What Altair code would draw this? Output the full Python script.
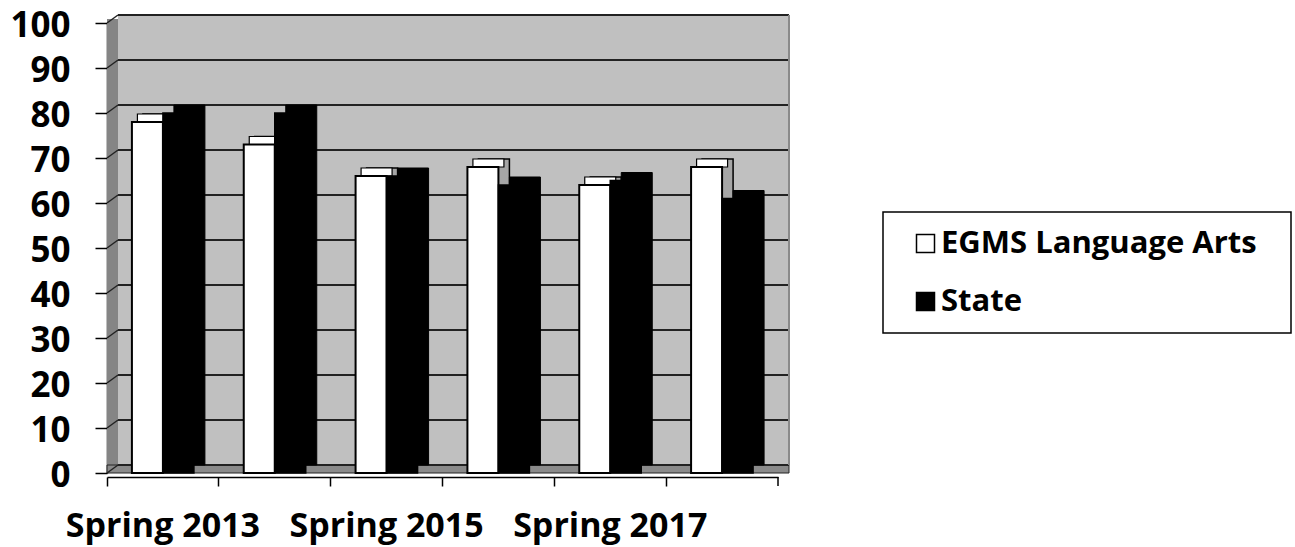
import altair as alt
import pandas as pd

# Test-year categories and the two score series (percent)
terms = ["Spring 2013", "Spring 2014", "Spring 2015", "Spring 2016", "Spring 2017", "Spring 2018"]
egms = [78, 73, 66, 68, 64, 68]
state = [80, 80, 66, 64, 65, 61]
series_names = ["EGMS Language Arts", "State"]
shown_labels = ["Spring 2013", "Spring 2015", "Spring 2017"]
y_ticks = list(range(0, 101, 10))

W, H = 671, 450          # front plot area
DX, DY = 11, -8          # depth of the 3-D box
BAR = 31                 # bar width
FONT = "Open Sans"

df = pd.DataFrame({
    "term": terms * 2,
    "series": [series_names[0]] * len(terms) + [series_names[1]] * len(terms),
    "value": egms + state,
})
grid_df = pd.DataFrame({"v": y_ticks})
span_df = pd.DataFrame({"lo": [0], "hi": [100]})

x_scale = alt.Scale(domain=terms, paddingInner=0, paddingOuter=0)
y_scale = alt.Scale(domain=[0, 100], nice=False)
color_scale = alt.Scale(domain=series_names, range=["white", "black"])

label_expr = "indexof(" + str(shown_labels).replace("'", "\"") + ", datum.value) >= 0 ? datum.label : ''"

x_axis = alt.Axis(
    title=None, labelAngle=0, bandPosition=0, tickSize=9, offset=4,
    domainColor="black", domainWidth=1.5, tickColor="black", tickWidth=1.5,
    labelFont=FONT, labelFontWeight="bold", labelFontSize=34, labelColor="black",
    labelPadding=23, labelExpr=label_expr, grid=False, labelOverlap=False,
    labelAlign="center", labelBound=False, labelFlush=False, labelLimit=1000,
)
y_axis = alt.Axis(
    title=None, values=y_ticks, tickSize=12, labelPadding=25, labelOffset=2,
    domainColor="black", domainWidth=1.5, tickColor="black", tickWidth=1.5,
    labelFont=FONT, labelFontWeight="bold", labelFontSize=35, labelColor="black",
    grid=False, labelFlush=False, labelOverlap=False, labelLimit=1000,
)

span = alt.Chart(span_df)

# legend frame
legend_box = span.mark_rect(fill="white", stroke="black", strokeWidth=1.5).encode(
    x=alt.value(776), x2=alt.value(1184), y=alt.value(189), y2=alt.value(310)
)

# back wall (carries the value axis)
wall = span.mark_rect(fill="#c0c0c0", yOffset=DY, y2Offset=DY).encode(
    x=alt.value(DX), x2=alt.value(W + DX),
    y=alt.Y("hi:Q", scale=y_scale, axis=y_axis), y2="lo:Q",
)
# side wall
side_wall = span.mark_rect(fill="#858585", yOffset=DY / 2, y2Offset=DY / 2).encode(
    x=alt.value(0), x2=alt.value(DX),
    y=alt.Y("hi:Q", scale=y_scale), y2="lo:Q",
)
# floor
floor = span.mark_rect(fill="#8a8a8a", stroke="#222", strokeWidth=1, y2Offset=DY).encode(
    x=alt.value(0), x2=alt.value(W + DX),
    y=alt.Y("lo:Q", scale=y_scale), y2="lo:Q",
)
# gridlines on the back wall
wall_grid = alt.Chart(grid_df).mark_rule(color="#222", strokeWidth=2, yOffset=DY).encode(
    x=alt.value(DX), x2=alt.value(W + DX),
    y=alt.Y("v:Q", scale=y_scale),
)
# gridlines running across the side wall
side_grid = alt.Chart(grid_df).mark_rule(color="#222", strokeWidth=1.5, y2Offset=DY).encode(
    x=alt.value(0), x2=alt.value(DX),
    y=alt.Y("v:Q", scale=y_scale), y2="v:Q",
)
# right edge of the back wall
wall_edge = span.mark_rule(color="#8a8a8a", strokeWidth=2, yOffset=DY, y2Offset=DY).encode(
    x=alt.value(W + DX),
    y=alt.Y("hi:Q", scale=y_scale), y2="lo:Q",
)
# closing tick at the right end of the category axis
end_tick = span.mark_rule(color="black", strokeWidth=1.5).encode(
    x=alt.value(W), y=alt.value(H + 4), y2=alt.value(H + 13),
)

base = alt.Chart(df)
egms_base = base.transform_filter(alt.datum.series == series_names[0])
state_base = base.transform_filter(alt.datum.series == series_names[1])

# EGMS boxes: shaded side, white top face, then the front face
egms_side = egms_base.mark_bar(
    width=BAR, xOffset=-BAR / 2 + DX, yOffset=DY, y2Offset=DY,
    fill="#a6a6a6", stroke="black", strokeWidth=1.5,
).encode(
    x=alt.X("term:N", scale=x_scale, axis=x_axis),
    y=alt.Y("value:Q", scale=y_scale),
)
egms_top = egms_base.mark_bar(
    width=BAR, xOffset=-BAR / 2 + DX / 2, yOffset=DY,
    fill="white", stroke="black", strokeWidth=1.2,
).encode(
    x=alt.X("term:N", scale=x_scale),
    y=alt.Y("value:Q", scale=y_scale), y2="value:Q",
)
egms_front = egms_base.mark_bar(
    width=BAR, xOffset=-BAR / 2, stroke="black", strokeWidth=2,
).encode(
    x=alt.X("term:N", scale=x_scale),
    y=alt.Y("value:Q", scale=y_scale),
    fill=alt.Fill("series:N", scale=color_scale, legend=alt.Legend(
        title=None, orient="none", legendX=803, legendY=205,
        symbolType="square", symbolSize=324, symbolStrokeColor="black",
        symbolStrokeWidth=1.5, labelFont=FONT, labelFontWeight="bold",
        labelFontSize=31, labelColor="black", labelOffset=0, rowPadding=26,
        labelLimit=500, padding=0,
    )),
)
# State boxes: black depth, then the front face
state_side = state_base.mark_bar(
    width=BAR, xOffset=BAR / 2 + DX, yOffset=DY, y2Offset=DY,
    fill="black", stroke="black", strokeWidth=1,
).encode(
    x=alt.X("term:N", scale=x_scale),
    y=alt.Y("value:Q", scale=y_scale),
)
state_front = state_base.mark_bar(
    width=BAR, xOffset=BAR / 2, stroke="black", strokeWidth=1.5,
).encode(
    x=alt.X("term:N", scale=x_scale),
    y=alt.Y("value:Q", scale=y_scale),
    fill=alt.Fill("series:N", scale=color_scale),
)

chart = alt.layer(
    legend_box, wall, side_wall, floor, wall_grid, side_grid, wall_edge, end_tick,
    egms_side, egms_top, egms_front, state_side, state_front,
).properties(
    width=W, height=H,
    autosize=alt.AutoSizeParams(type="none"),
    padding={"left": 107, "top": 23, "right": 1295 - 107 - W, "bottom": 547 - 23 - H},
    background="white",
).configure_view(stroke=None)

chart.save("out.html", embed_options={"renderer": "svg", "actions": False})
